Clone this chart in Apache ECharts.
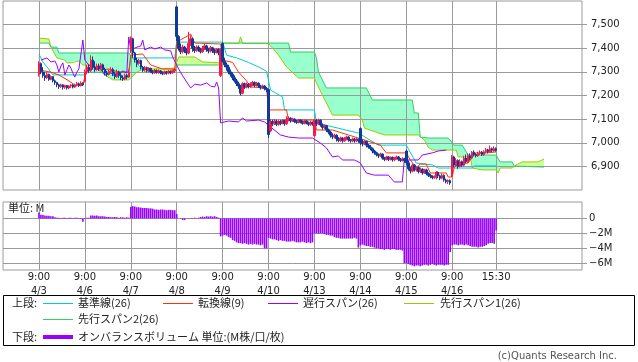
<!DOCTYPE html>
<html><head><meta charset="utf-8">
<script src="https://cdn.jsdelivr.net/npm/echarts@6/dist/echarts.min.js"></script>
<style>html,body{margin:0;padding:0;background:#fff}#c{width:638px;height:362px}</style>
</head><body><div id="c"></div>
<script>
// ---------- data (bar index 0 = 4/3 9:00, 23 bars per session) ----------
const dayLabels = ['4/3','4/6','4/7','4/8','4/9','4/10','4/13','4/14','4/15','4/16'];
const openTimeLabel = '9:00';
const closeTimeLabel = '15:30';
const priceTicks = [6900,7000,7100,7200,7300,7400,7500];
const obvTicks = [0,-2,-4,-6];

// candles [open, close, low, high]
const candles = [
// 4/3
[7290,7335,7280,7345],[7335,7300,7290,7340],[7300,7285,7275,7320],[7285,7275,7262,7300],[7275,7290,7270,7298],[7290,7268,7262,7292],[7268,7280,7265,7285],[7280,7262,7255,7282],[7262,7255,7245,7268],[7255,7245,7235,7258],[7245,7238,7228,7250],[7238,7245,7232,7250],[7245,7235,7225,7248],[7235,7242,7228,7246],[7242,7232,7225,7245],[7232,7240,7226,7244],[7240,7244,7232,7248],[7244,7236,7230,7248],[7236,7244,7232,7250],[7244,7250,7238,7258],[7250,7242,7236,7255],[7242,7252,7238,7260],[7252,7245,7240,7256],
// 4/6
[7260,7300,7255,7310],[7300,7320,7290,7330],[7320,7305,7295,7330],[7305,7350,7300,7370],[7350,7320,7310,7365],[7320,7310,7300,7345],[7310,7325,7305,7335],[7325,7315,7305,7335],[7315,7330,7310,7338],[7330,7310,7300,7335],[7310,7295,7285,7318],[7295,7290,7280,7305],[7290,7302,7285,7310],[7302,7310,7295,7320],[7310,7292,7282,7318],[7292,7280,7270,7300],[7280,7300,7275,7310],[7300,7285,7275,7305],[7285,7275,7265,7295],[7275,7270,7262,7285],[7270,7285,7265,7292],[7285,7278,7268,7292],[7278,7300,7275,7310],
// 4/7
[7390,7440,7380,7450],[7440,7380,7360,7445],[7380,7350,7340,7385],[7350,7335,7320,7360],[7335,7348,7330,7355],[7348,7320,7310,7352],[7320,7308,7300,7325],[7308,7318,7302,7325],[7318,7305,7298,7322],[7305,7315,7300,7320],[7315,7302,7295,7318],[7302,7296,7290,7308],[7296,7306,7292,7312],[7306,7298,7292,7310],[7298,7304,7292,7310],[7304,7296,7290,7308],[7296,7292,7286,7302],[7292,7300,7288,7305],[7300,7295,7288,7304],[7295,7302,7290,7308],[7302,7296,7290,7306],[7296,7305,7292,7310],[7305,7310,7298,7315],
// 4/8
[7575,7450,7430,7580],[7450,7400,7390,7455],[7400,7385,7375,7420],[7385,7405,7378,7415],[7405,7390,7380,7410],[7390,7380,7370,7400],[7380,7420,7375,7470],[7420,7440,7410,7455],[7440,7400,7385,7445],[7400,7390,7380,7410],[7390,7405,7385,7412],[7405,7395,7385,7412],[7395,7385,7378,7402],[7385,7400,7380,7410],[7400,7410,7392,7418],[7410,7395,7385,7415],[7395,7388,7378,7402],[7388,7402,7382,7410],[7402,7390,7380,7406],[7390,7382,7372,7398],[7382,7395,7378,7400],[7395,7380,7370,7400],[7285,7395,7278,7400],
// 4/9
[7420,7345,7340,7425],[7345,7330,7320,7360],[7330,7320,7305,7340],[7320,7300,7290,7330],[7300,7290,7280,7310],[7290,7275,7265,7298],[7275,7262,7255,7285],[7262,7250,7240,7270],[7250,7240,7228,7258],[7240,7210,7200,7245],[7210,7250,7205,7256],[7250,7235,7228,7255],[7235,7248,7230,7255],[7248,7238,7230,7252],[7238,7250,7232,7256],[7250,7255,7240,7262],[7255,7242,7235,7260],[7242,7252,7238,7258],[7252,7240,7232,7256],[7240,7232,7225,7245],[7232,7240,7228,7246],[7240,7230,7222,7244],[7230,7225,7215,7236],
// 4/10
[7225,7035,7020,7230],[7050,7090,7045,7100],[7090,7080,7070,7098],[7080,7092,7075,7100],[7092,7078,7070,7098],[7078,7090,7072,7096],[7090,7082,7074,7096],[7082,7094,7078,7100],[7094,7080,7072,7098],[7080,7098,7076,7112],[7098,7104,7090,7112],[7104,7092,7085,7108],[7092,7100,7088,7106],[7100,7090,7084,7104],[7090,7086,7080,7096],[7086,7096,7082,7100],[7096,7088,7082,7100],[7088,7082,7076,7094],[7082,7092,7078,7098],[7092,7084,7078,7096],[7084,7078,7070,7090],[7078,7086,7072,7092],[7086,7080,7072,7090],
// 4/13
[7030,7095,7025,7100],[7095,7080,7070,7100],[7080,7095,7075,7102],[7095,7075,7068,7100],[7075,7065,7055,7082],[7065,7072,7058,7078],[7072,7055,7045,7076],[7055,7045,7036,7060],[7045,7032,7022,7050],[7032,7025,7015,7040],[7025,7032,7018,7038],[7032,7018,7005,7036],[7018,7010,7002,7024],[7010,7020,7004,7026],[7020,7008,7000,7024],[7008,7018,7004,7024],[7018,7024,7010,7030],[7024,7012,7004,7028],[7012,7008,7000,7016],[7008,7016,7002,7022],[7016,7008,7000,7020],[7008,7015,7002,7020],[7015,7008,7000,7018],
// 4/14
[7060,7000,6990,7065],[7005,6995,6985,7015],[6995,7005,6990,7012],[7005,6990,6980,7008],[6990,6982,6975,6995],[6982,6975,6968,6990],[6975,6965,6955,6980],[6965,6958,6950,6970],[6958,6950,6942,6962],[6950,6945,6935,6955],[6945,6952,6940,6958],[6952,6935,6928,6955],[6935,6930,6922,6940],[6930,6940,6925,6945],[6940,6930,6922,6944],[6930,6938,6925,6942],[6938,6928,6920,6942],[6928,6936,6922,6940],[6936,6940,6928,6945],[6940,6930,6922,6944],[6930,6925,6918,6936],[6925,6932,6920,6938],[6932,6925,6915,6936],
// 4/15
[6965,6915,6905,6970],[6915,6890,6882,6925],[6890,6880,6870,6898],[6880,6905,6875,6912],[6905,6885,6878,6910],[6885,6895,6878,6900],[6895,6878,6870,6900],[6878,6888,6872,6895],[6888,6872,6865,6892],[6872,6885,6868,6890],[6885,6870,6862,6890],[6870,6862,6855,6875],[6862,6858,6850,6868],[6858,6852,6845,6862],[6852,6858,6848,6862],[6858,6875,6845,6880],[6875,6860,6850,6878],[6860,6850,6842,6865],[6850,6862,6845,6870],[6862,6842,6835,6866],[6842,6835,6828,6848],[6835,6840,6825,6845],[6840,6830,6822,6845],
// 4/16
[6860,6940,6855,6948],[6940,6905,6895,6945],[6905,6925,6900,6935],[6925,6900,6890,6930],[6900,6920,6895,6930],[6920,6905,6898,6925],[6905,6935,6900,6945],[6935,6920,6912,6950],[6920,6945,6915,6955],[6945,6935,6925,6955],[6935,6960,6930,6965],[6960,6950,6942,6968],[6950,6945,6938,6958],[6945,6955,6940,6962],[6955,6960,6948,6968],[6960,6950,6944,6965],[6950,6962,6945,6968],[6962,6970,6955,6978],[6970,6962,6955,6975],[6962,6975,6958,6988],[6975,6968,6960,6980],[6965,6975,6962,6985],[6975,6968,6962,6980]
];

// Ichimoku lines, read as [bar index, price] at their turning points
const kijun = [[0,7376],[2,7342],[4,7321],[7,7287],[23,7287],[24,7299],[45,7299],[46,7359],[68,7359],[69,7426],[92,7426],[94,7371],[99,7359],[105,7340],[110,7321],[114,7303],[116,7223],[122,7194],[123,7139],[138,7139],[139,7084],[160,7041],[170,6990],[184,6990],[189,6914],[197,6906],[200,6893],[217,6893],[218,6902],[229,6902]];
const tenkan = [[0,7308],[6,7299],[10,7287],[15,7262],[18,7244],[22,7244],[23,7278],[25,7329],[30,7308],[35,7312],[40,7299],[45,7299],[46,7371],[52,7376],[56,7329],[62,7312],[68,7312],[69,7426],[76,7460],[78,7422],[91,7418],[92,7350],[97,7340],[100,7299],[104,7262],[106,7236],[114,7232],[115,7139],[124,7139],[125,7096],[138,7096],[139,7054],[147,7054],[155,7033],[163,7012],[171,6990],[174,6957],[184,6957],[186,6927],[189,6893],[191,6910],[194,6910],[196,6872],[204,6872],[205,6855],[207,6855],[208,6897],[211,6914],[215,6914],[217,6940],[219,6957],[224,6957],[225,6961],[229,6961]];
const chikou = [[1,7350],[2,7342],[4,7359],[6,7342],[8,7346],[9,7329],[10,7299],[11,7325],[12,7338],[13,7287],[15,7329],[16,7316],[17,7295],[18,7278],[19,7299],[20,7312],[21,7304],[22,7435],[23,7350],[25,7329],[28,7321],[31,7312],[33,7287],[36,7295],[38,7283],[40,7291],[42,7304],[44,7295],[45,7448],[46,7393],[48,7401],[51,7410],[52,7435],[53,7393],[56,7405],[58,7397],[61,7405],[63,7393],[66,7389],[67,7363],[68,7371],[70,7312],[72,7283],[74,7257],[76,7232],[78,7248],[81,7244],[84,7253],[86,7240],[88,7236],[89,7257],[90,7232],[91,7084],[95,7092],[100,7088],[102,7105],[104,7092],[110,7096],[113,7088],[116,7067],[121,7033],[125,7024],[130,7020],[137,7020],[141,6999],[144,6978],[147,6940],[150,6944],[152,6927],[158,6927],[161,6914],[164,6872],[168,6863],[175,6863],[178,6834],[182,6834],[183,6927],[190,6927],[192,6948],[197,6957],[200,6965],[204,6969]];
const senkou1 = [[0,7443],[5,7439],[6,7405],[9,7359],[13,7350],[14,7338],[16,7338],[17,7346],[20,7346],[22,7329],[25,7329],[27,7308],[30,7308],[33,7287],[37,7266],[45,7266],[47,7283],[49,7299],[52,7310],[53,7316],[68,7316],[69,7342],[70,7363],[78,7363],[82,7342],[91,7338],[92,7422],[100,7420],[101,7448],[102,7420],[115,7420],[120,7371],[124,7321],[130,7274],[138,7274],[139,7253],[142,7202],[147,7117],[160,7117],[162,7096],[163,7062],[173,7033],[190,7033],[193,7012],[195,6982],[197,6969],[209,6969],[210,6940],[216,6940],[217,6893],[222,6885],[229,6885],[230,6872],[231,6893],[237,6893],[238,6901],[239,6906],[242,6919],[250,6919],[253,6931]];
const senkou2 = [[0,7422],[5,7422],[6,7405],[9,7405],[10,7380],[45,7380],[47,7359],[49,7335],[52,7310],[53,7299],[68,7299],[69,7329],[91,7329],[92,7422],[125,7422],[126,7384],[138,7384],[139,7359],[140,7299],[144,7232],[164,7232],[167,7181],[187,7181],[188,7126],[190,7126],[191,7024],[195,7020],[205,7020],[208,6990],[212,6990],[215,6948],[229,6948],[231,6919],[237,6919],[238,6901],[239,6897],[253,6897]];
// cloud sections between crossings: [from, to, which span on top]
const cloudSections = [[0,6,1],[6,52,2],[52,92,1],[92,238,2],[238,253,1]];

// on-balance volume (millions)
const obv = [
0.8,0.5,0.45,0.4,0.35,0.35,0.3,0.3,0.15,0.1,0.1,0.05,0.1,0.1,0.05,0.1,0.1,0.05,0.1,0.1,0.05,0.05,-0.45,
0.05,0.1,0.1,0.4,0.4,0.35,0.4,0.3,0.3,0.3,0.25,0.2,0.2,0.15,0.15,0.2,0.15,0.1,0.15,0.15,0.1,0.15,0.1,
1.55,1.65,1.6,1.5,1.5,1.45,1.4,1.4,1.4,1.35,1.35,1.3,1.2,1.2,1.15,1.2,1.2,1.15,1.1,1.15,1.15,1.1,1.1,
0.6,0.0,-0.05,-0.2,-0.2,0.0,0.05,0.05,0.05,0.1,0.05,0.1,0.2,0.25,0.2,0.3,0.25,0.3,0.25,0.3,0.2,0.1,-2.4,
-2.3,-2.2,-2.3,-2.5,-2.6,-2.9,-3.0,-3.2,-3.3,-3.3,-3.4,-3.3,-3.4,-3.5,-3.4,-3.5,-3.4,-3.5,-3.5,-3.6,-3.5,-4.0,-4.0,
-2.6,-2.7,-2.8,-2.8,-2.9,-3.0,-2.9,-3.0,-3.0,-3.1,-3.1,-3.1,-3.0,-3.1,-3.2,-3.2,-3.2,-3.1,-3.2,-3.3,-3.2,-3.3,-3.2,
-2.0,-2.0,-2.0,-2.0,-2.0,-2.1,-2.2,-2.2,-2.3,-2.3,-2.5,-2.6,-2.6,-2.7,-2.7,-2.7,-2.7,-2.7,-2.7,-2.7,-2.6,-2.7,-3.9,
-3.6,-3.5,-3.6,-3.7,-3.7,-3.8,-3.8,-3.9,-4.0,-4.0,-4.1,-4.1,-4.2,-4.1,-4.1,-4.2,-4.1,-4.1,-4.2,-4.2,-4.2,-4.3,-6.0,
-6.0,-6.1,-6.2,-6.3,-6.4,-6.3,-6.3,-6.4,-6.3,-6.2,-6.2,-6.3,-6.2,-6.1,-6.2,-6.3,-6.2,-6.2,-6.2,-6.3,-6.2,-6.2,-4.5,
-3.6,-3.5,-3.5,-3.6,-3.5,-3.5,-3.6,-3.5,-3.6,-3.7,-3.8,-3.8,-3.8,-3.9,-3.8,-3.8,-3.7,-3.6,-3.4,-3.3,-3.3,-3.4,-1.6
];

// ---------- axis layout helpers ----------
const BARS_PER_DAY = 23;
const LEAD = 18;      // empty slots before first bar
const TOTAL = 291;    // slots on the time axis
const cats = [];
for (let k = 0; k < TOTAL; k++) {
  const i = k - LEAD;
  let lab = '';
  if (i >= 0 && i % BARS_PER_DAY === 0 && i / BARS_PER_DAY < dayLabels.length) lab = openTimeLabel + '\n' + dayLabels[i / BARS_PER_DAY];
  else if (i === candles.length - 1) lab = closeTimeLabel;
  cats.push(lab);
}
const showCat = (idx) => cats[idx] !== '';
const pad = (arr) => cats.map((_, k) => { const i = k - LEAD; return (i >= 0 && i < arr.length) ? arr[i] : '-'; });
const pts = (arr) => arr.map(p => [p[0] + LEAD, p[1]]);

const FONT = 'DejaVu Sans';
const JP = '11px "Noto Sans CJK JP"';
const GRIDC = '#9a9a9a';
const chart = echarts.init(document.getElementById('c'), null, {renderer: 'canvas'});

const lineS = (name, data, color, z) => ({
  name, type: 'line', xAxisIndex: 0, yAxisIndex: 0, data: pts(data), symbol: 'none',
  lineStyle: {color, width: 1}, z, silent: true, animation: false
});
const legendLine = (x, y, color, h) => ({type: 'rect', shape: {x, y: y - h / 2, width: 30, height: h}, style: {fill: color, stroke: null}});
const legendText = (x, y, text) => ({type: 'text', x, y, style: {text, font: JP, fill: '#222', verticalAlign: 'middle'}});

chart.setOption({
  animation: false,
  grid: [
    {left: 3, top: 1, width: 579, height: 189, show: true, borderColor: GRIDC, borderWidth: 1, containLabel: false, outerBoundsMode: 'none'},
    {left: 3, top: 202, width: 579, height: 68, show: true, borderColor: GRIDC, borderWidth: 1, containLabel: false, outerBoundsMode: 'none'}
  ],
  xAxis: [
    {type: 'category', gridIndex: 0, data: cats, boundaryGap: false,
     axisLine: {show: false}, axisTick: {show: false}, axisLabel: {show: false},
     splitLine: {show: true, interval: showCat, lineStyle: {color: GRIDC, width: 1}}},
    {type: 'category', gridIndex: 1, data: cats, boundaryGap: false,
     axisLine: {show: false}, axisTick: {show: false},
     axisLabel: {show: true, interval: showCat, margin: 0, fontFamily: FONT, fontSize: 10, lineHeight: 14, color: '#222'},
     splitLine: {show: true, interval: showCat, lineStyle: {color: GRIDC, width: 1}}}
  ],
  yAxis: [
    {type: 'value', gridIndex: 0, position: 'right', min: 6800, max: 7600, interval: 100,
     axisLine: {show: false},
     axisTick: {show: true, length: 5, customValues: priceTicks, lineStyle: {color: GRIDC}},
     axisLabel: {customValues: priceTicks, margin: 9, fontFamily: FONT, fontSize: 10, color: '#222',
       formatter: v => String(v).replace(/\B(?=(\d{3})+(?!\d))/g, ',')},
     splitLine: {show: true, lineStyle: {color: GRIDC, width: 1}}},
    {type: 'value', gridIndex: 1, position: 'right', min: -6.9, max: 2.2,
     axisLine: {show: false},
     axisTick: {show: true, length: 5, customValues: obvTicks, lineStyle: {color: GRIDC}},
     axisLabel: {customValues: obvTicks, margin: 7, fontFamily: FONT, fontSize: 10, color: '#222',
       formatter: v => v === 0 ? '0' : '\u2212' + Math.abs(v) + 'M'},
     splitLine: {show: true, lineStyle: {color: GRIDC, width: 1}}}
  ],
  series: [
    {type: 'custom', name: 'cloud', xAxisIndex: 0, yAxisIndex: 0, z: -1, silent: true,
     data: cloudSections.map(s => [s[0] + LEAD, s[1] + LEAD, 7200]),
     encode: {x: [0, 1], y: 2},
     renderItem: (params, api) => {
       const s = cloudSections[params.dataIndex];
       const a = senkou1.filter(p => p[0] >= s[0] && p[0] <= s[1]).map(p => api.coord([p[0] + LEAD, p[1]]));
       const b = senkou2.filter(p => p[0] >= s[0] && p[0] <= s[1]).reverse().map(p => api.coord([p[0] + LEAD, p[1]]));
       return {type: 'polygon', shape: {points: a.concat(b)}, style: {fill: s[2] === 1 ? '#ccff99' : '#99ffcc', stroke: null}};
     }},
    lineS('先行スパン1(26)', senkou1, '#99cc00', 3),
    lineS('先行スパン2(26)', senkou2, '#33cc66', 3),
    lineS('基準線(26)', kijun, '#00cccc', 4),
    lineS('転換線(9)', tenkan, '#ff3300', 4),
    lineS('遅行スパン(26)', chikou, '#9900ff', 4),
    {type: 'candlestick', name: 'price', xAxisIndex: 0, yAxisIndex: 0, data: pad(candles), barWidth: 2, barMinWidth: 2, barMaxWidth: 3, z: 5, silent: true,
     itemStyle: {color: '#ff1744', color0: '#0d3b9c', borderColor: '#ff1744', borderColor0: '#0d3b9c', borderWidth: 1}},
    {type: 'bar', name: 'OBV', xAxisIndex: 1, yAxisIndex: 1, data: pad(obv), barWidth: 1.6, silent: true,
     itemStyle: {color: '#9900ff'}}
  ],
  graphic: [
    {type: 'text', left: 8, top: 202, style: {text: '単位: M', font: JP, fill: '#222'}},
    {type: 'rect', shape: {x: 3.5, y: 295.5, width: 631, height: 50}, style: {fill: 'none', stroke: '#000', lineWidth: 1}},
    legendText(12, 303, '上段:'),
    legendLine(43, 303.5, '#00cccc', 1), legendText(78, 303, '基準線(26)'),
    legendLine(163, 303.5, '#ff3300', 1), legendText(198, 303, '転換線(9)'),
    legendLine(268, 303.5, '#9900ff', 1), legendText(303, 303, '遅行スパン(26)'),
    legendLine(404, 303.5, '#99cc00', 1), legendText(440, 303, '先行スパン1(26)'),
    legendLine(43, 319.5, '#33cc66', 1), legendText(78, 319, '先行スパン2(26)'),
    legendText(12, 337, '下段:'),
    legendLine(43, 337, '#9900ff', 4), legendText(78, 337, 'オンバランスボリューム 単位:(M株/口/枚)'),
    {type: 'text', x: 617, y: 356, style: {text: '(c)Quants Research Inc.', font: '10px "DejaVu Sans"', fill: '#555', align: 'right', verticalAlign: 'middle'}}
  ]
});
</script></body></html>
